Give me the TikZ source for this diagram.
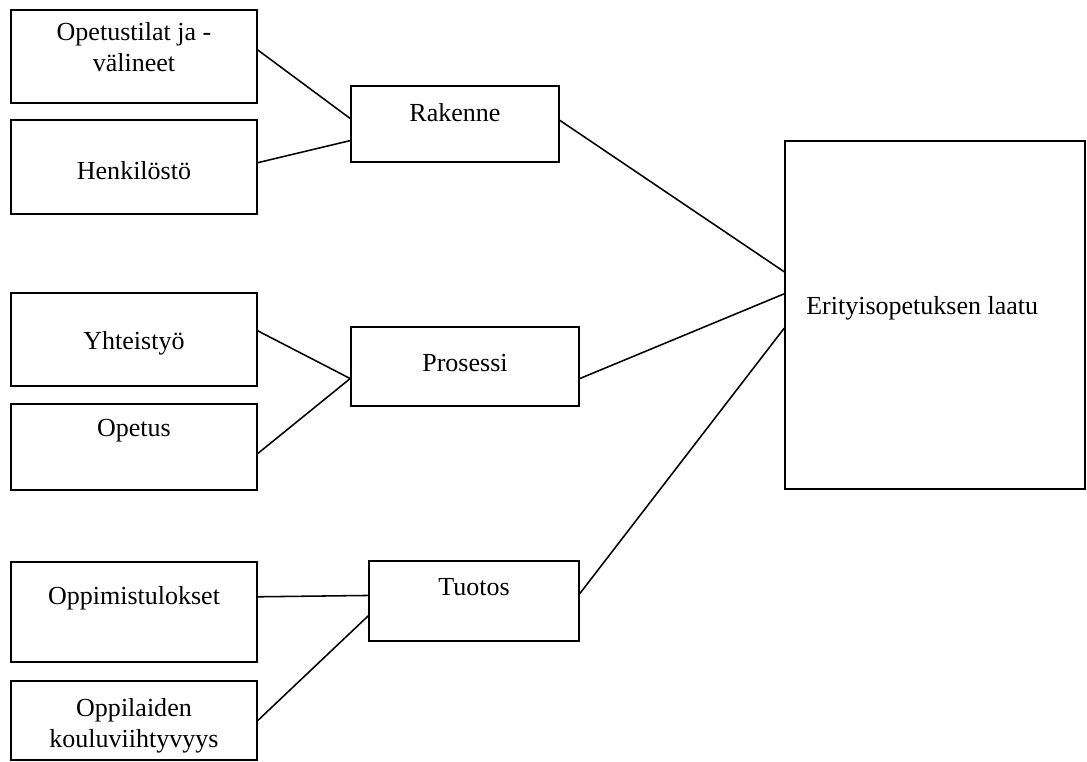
\documentclass[tikz,border=0pt]{standalone}
\usepackage{fontspec}
\setmainfont{Liberation Serif}
\usepackage{tikz}

\begin{document}
\begin{tikzpicture}[x=0.025cm, y=-0.025cm,
    box/.style={draw, line width=1.1pt, inner sep=0pt},
    txt/.style={font=\fontsize{18.5}{22}\selectfont, align=center, inner sep=0pt}]
\useasboundingbox (0,0) rectangle (1087,762);

% vasen sarake
\node[box, minimum width=6.15cm, minimum height=2.325cm] (tilat) at (134,56.5) {};
\node[box, minimum width=6.15cm, minimum height=2.35cm] (henk) at (134,167) {};
\node[box, minimum width=6.15cm, minimum height=2.325cm] (yht) at (134,339.5) {};
\node[box, minimum width=6.15cm, minimum height=2.15cm] (opetus) at (134,447) {};
\node[box, minimum width=6.15cm, minimum height=2.5cm] (tulos) at (134,612) {};
\node[box, minimum width=6.15cm, minimum height=1.975cm] (viiht) at (134,720.5) {};

\node[txt] (tilatt) at (134,47) {Opetustilat ja -\\välineet};
\node[txt] (henkt) at (134,171) {Henkilöstö};
\node[txt] (yhtt) at (134,343) {Yhteistyö};
\node[txt] (opetust) at (134,431) {Opetus};
\node[txt] (tulost) at (134,598) {Oppimistulokset};
\node[txt] (viihtt) at (134,726) {Oppilaiden\\kouluviihtyvyys};

% keskisarake
\node[box, minimum width=5.2cm, minimum height=1.9cm] (rak) at (455,124) {};
\node[box, minimum width=5.7cm, minimum height=1.975cm] (pro) at (465,366.5) {};
\node[box, minimum width=5.25cm, minimum height=2cm] (tuo) at (474,601) {};

\node[txt] (rakt) at (455,113) {Rakenne};
\node[txt] (prot) at (465,363) {Prosessi};
\node[txt] (tuot) at (474,587) {Tuotos};

% laatu
\node[box, minimum width=7.5cm, minimum height=8.7cm] (eri) at (935,315) {};
\node[txt, anchor=west] (erit) at (806,308) {Erityisopetuksen laatu};

\draw[line width=1.1pt]
(tilat.3) -- (rak.177)
(henk.2) -- (rak.189)
(yht.4) -- (pro.186)
(opetus.357) -- (pro.186)
(tulos.7) -- (tuo.177)
(viiht.east) -- (tuo.188)
(rak.2) -- (eri.164)
(pro.354) -- (eri.172)
(tuo.4) -- (eri.185);
\end{tikzpicture}
\end{document}
